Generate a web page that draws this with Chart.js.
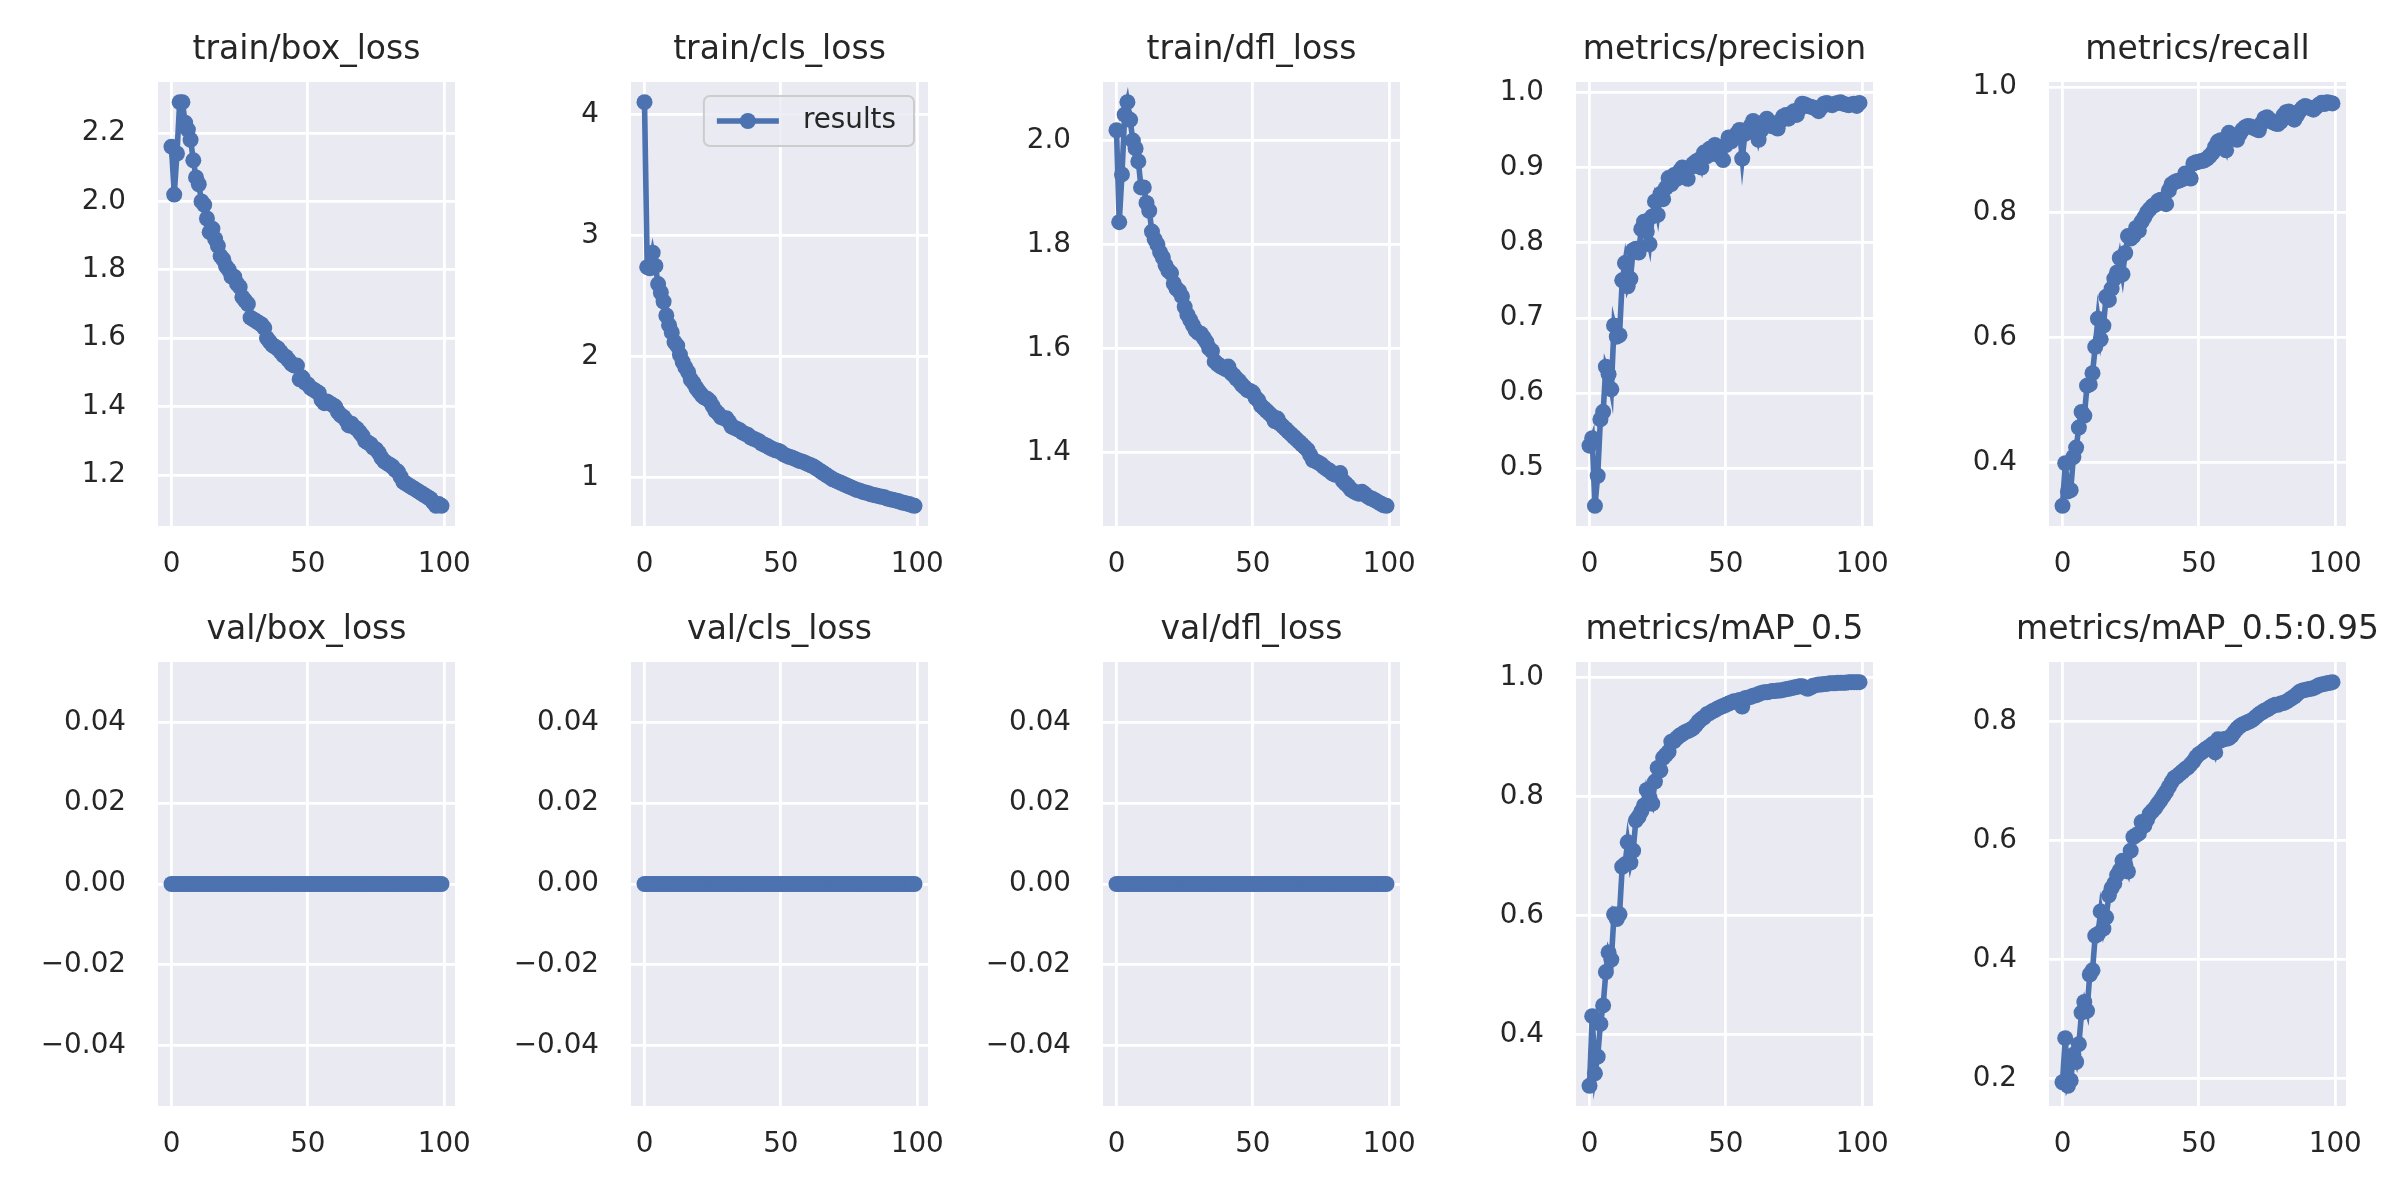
<!DOCTYPE html>
<html>
<head>
<meta charset="utf-8">
<script src="https://cdn.jsdelivr.net/npm/chart.js@4.4.1/dist/chart.umd.min.js"></script>
<style>
  html, body { margin: 0; padding: 0; background: #ffffff; }
  #figure { position: relative; width: 2400px; height: 1200px; overflow: hidden; background: #ffffff; }
  #figure canvas { position: absolute; }
</style>
</head>
<body>
<div id="figure"></div>
<script>
// epochs on the x axis
const epochs = [0,1,2,3,4,5,6,7,8,9,10,11,12,13,14,15,16,17,18,19,20,21,22,23,24,25,26,27,28,29,
  30,31,32,33,34,35,36,37,38,39,40,41,42,43,44,45,46,47,48,49,50,51,52,53,54,55,56,57,58,59,
  60,61,62,63,64,65,66,67,68,69,70,71,72,73,74,75,76,77,78,79,80,81,82,83,84,85,86,87,88,89,
  90,91,92,93,94,95,96,97,98,99];

const trainBoxLoss = [2.16,2.02,2.14,2.29,2.29,2.23,2.21,2.18,2.12,2.07,
  2.05,2.00,1.99,1.95,1.91,1.92,1.89,1.87,1.84,1.83,
  1.81,1.80,1.78,1.78,1.76,1.75,1.72,1.71,1.70,1.66,
  1.655,1.65,1.645,1.64,1.63,1.60,1.59,1.58,1.575,1.57,
  1.56,1.55,1.545,1.535,1.525,1.52,1.52,1.48,1.485,1.47,
  1.465,1.455,1.45,1.445,1.44,1.42,1.41,1.415,1.41,1.405,
  1.40,1.385,1.375,1.37,1.36,1.345,1.35,1.34,1.335,1.325,
  1.315,1.30,1.295,1.29,1.28,1.275,1.265,1.25,1.24,1.235,
  1.23,1.225,1.215,1.21,1.195,1.18,1.175,1.17,1.165,1.16,
  1.155,1.15,1.145,1.14,1.135,1.13,1.12,1.11,1.115,1.11];

const trainClsLoss = [4.105,2.74,2.73,2.86,2.75,2.60,2.53,2.455,2.34,2.26,
  2.20,2.12,2.09,2.015,1.955,1.91,1.87,1.81,1.78,1.74,
  1.71,1.68,1.66,1.65,1.63,1.59,1.55,1.53,1.50,1.49,
  1.49,1.46,1.42,1.41,1.40,1.39,1.37,1.36,1.35,1.33,
  1.32,1.31,1.30,1.28,1.27,1.26,1.245,1.235,1.225,1.22,
  1.21,1.19,1.18,1.17,1.165,1.155,1.145,1.135,1.13,1.12,
  1.11,1.10,1.09,1.075,1.06,1.045,1.03,1.015,1.00,0.985,
  0.975,0.965,0.955,0.945,0.935,0.925,0.915,0.905,0.895,0.89,
  0.88,0.875,0.87,0.86,0.855,0.85,0.845,0.84,0.835,0.825,
  0.82,0.815,0.81,0.805,0.795,0.79,0.785,0.78,0.77,0.765];

const trainDflLoss = [2.02,1.843,1.935,2.05,2.074,2.04,2.0,1.985,1.96,1.91,
  1.91,1.88,1.865,1.825,1.81,1.80,1.785,1.775,1.76,1.75,
  1.745,1.725,1.715,1.71,1.70,1.68,1.665,1.655,1.645,1.635,
  1.63,1.628,1.62,1.612,1.60,1.595,1.575,1.57,1.566,1.563,
  1.56,1.565,1.553,1.548,1.542,1.537,1.53,1.525,1.52,1.518,
  1.515,1.505,1.50,1.49,1.485,1.48,1.475,1.47,1.46,1.465,
  1.455,1.45,1.445,1.44,1.435,1.43,1.425,1.42,1.415,1.41,
  1.405,1.395,1.385,1.383,1.38,1.377,1.372,1.368,1.365,1.36,
  1.357,1.358,1.36,1.345,1.34,1.335,1.328,1.325,1.322,1.32,
  1.324,1.32,1.315,1.312,1.31,1.307,1.304,1.301,1.298,1.297];

const precision = [0.53,0.54,0.45,0.49,0.565,0.575,0.635,0.625,0.605,0.69,
  0.675,0.677,0.75,0.773,0.742,0.752,0.79,0.792,0.787,0.818,
  0.828,0.815,0.798,0.835,0.855,0.837,0.865,0.858,0.873,0.886,
  0.878,0.89,0.885,0.895,0.90,0.893,0.885,0.90,0.905,0.908,
  0.91,0.90,0.92,0.915,0.925,0.918,0.93,0.92,0.915,0.91,
  0.93,0.94,0.935,0.94,0.945,0.95,0.912,0.945,0.95,0.955,
  0.962,0.955,0.937,0.95,0.96,0.965,0.96,0.955,0.958,0.952,
  0.962,0.968,0.97,0.965,0.972,0.975,0.97,0.978,0.985,0.984,
  0.982,0.981,0.98,0.978,0.975,0.98,0.985,0.986,0.984,0.983,
  0.985,0.986,0.987,0.985,0.984,0.983,0.984,0.985,0.982,0.986];

const recall = [0.331,0.399,0.354,0.356,0.409,0.424,0.456,0.481,0.475,0.523,
  0.525,0.543,0.585,0.63,0.597,0.619,0.665,0.66,0.678,0.694,
  0.704,0.727,0.701,0.735,0.762,0.758,0.762,0.775,0.771,0.785,
  0.792,0.80,0.805,0.81,0.812,0.818,0.82,0.815,0.813,0.835,
  0.845,0.848,0.85,0.851,0.853,0.862,0.856,0.854,0.878,0.88,
  0.881,0.882,0.883,0.886,0.89,0.895,0.905,0.913,0.915,0.91,
  0.899,0.927,0.92,0.918,0.916,0.925,0.932,0.936,0.938,0.937,
  0.935,0.933,0.931,0.942,0.95,0.952,0.948,0.944,0.942,0.941,
  0.945,0.955,0.96,0.961,0.952,0.948,0.955,0.962,0.967,0.97,
  0.968,0.966,0.964,0.968,0.972,0.975,0.973,0.976,0.975,0.974];

const valBoxLoss = [0,0,0,0,0,0,0,0,0,0,0,0,0,0,0,0,0,0,0,0,0,0,0,0,0,0,0,0,0,0,0,0,0,0,0,0,0,0,0,0,0,0,0,0,0,0,0,0,0,0,
  0,0,0,0,0,0,0,0,0,0,0,0,0,0,0,0,0,0,0,0,0,0,0,0,0,0,0,0,0,0,0,0,0,0,0,0,0,0,0,0,0,0,0,0,0,0,0,0,0,0];
const valClsLoss = [0,0,0,0,0,0,0,0,0,0,0,0,0,0,0,0,0,0,0,0,0,0,0,0,0,0,0,0,0,0,0,0,0,0,0,0,0,0,0,0,0,0,0,0,0,0,0,0,0,0,
  0,0,0,0,0,0,0,0,0,0,0,0,0,0,0,0,0,0,0,0,0,0,0,0,0,0,0,0,0,0,0,0,0,0,0,0,0,0,0,0,0,0,0,0,0,0,0,0,0,0];
const valDflLoss = [0,0,0,0,0,0,0,0,0,0,0,0,0,0,0,0,0,0,0,0,0,0,0,0,0,0,0,0,0,0,0,0,0,0,0,0,0,0,0,0,0,0,0,0,0,0,0,0,0,0,
  0,0,0,0,0,0,0,0,0,0,0,0,0,0,0,0,0,0,0,0,0,0,0,0,0,0,0,0,0,0,0,0,0,0,0,0,0,0,0,0,0,0,0,0,0,0,0,0,0,0];

const mAP50 = [0.314,0.431,0.335,0.363,0.418,0.449,0.505,0.538,0.526,0.602,
  0.594,0.602,0.682,0.686,0.723,0.689,0.709,0.76,0.766,0.775,
  0.785,0.811,0.798,0.788,0.825,0.848,0.844,0.865,0.87,0.875,
  0.892,0.893,0.898,0.902,0.905,0.908,0.91,0.912,0.915,0.92,
  0.926,0.93,0.933,0.938,0.94,0.943,0.945,0.948,0.95,0.952,
  0.954,0.956,0.958,0.96,0.96,0.962,0.951,0.965,0.966,0.967,
  0.969,0.97,0.972,0.974,0.975,0.975,0.976,0.977,0.977,0.978,
  0.978,0.979,0.98,0.981,0.982,0.983,0.984,0.985,0.985,0.983,
  0.981,0.983,0.986,0.987,0.988,0.988,0.989,0.989,0.99,0.99,
  0.99,0.991,0.991,0.991,0.991,0.992,0.992,0.992,0.992,0.992];

const mAP5095 = [0.194,0.268,0.188,0.197,0.24,0.228,0.258,0.311,0.329,0.314,
  0.375,0.382,0.44,0.443,0.481,0.452,0.471,0.508,0.52,0.528,
  0.542,0.55,0.566,0.56,0.548,0.583,0.606,0.609,0.612,0.631,
  0.625,0.635,0.645,0.65,0.655,0.662,0.668,0.675,0.682,0.69,
  0.698,0.705,0.708,0.712,0.716,0.72,0.723,0.728,0.733,0.74,
  0.745,0.748,0.752,0.755,0.758,0.762,0.748,0.77,0.768,0.77,
  0.771,0.772,0.776,0.782,0.788,0.792,0.795,0.797,0.799,0.801,
  0.804,0.808,0.812,0.815,0.818,0.82,0.823,0.826,0.828,0.828,
  0.83,0.831,0.833,0.836,0.839,0.842,0.846,0.85,0.852,0.853,
  0.854,0.855,0.856,0.858,0.861,0.862,0.863,0.864,0.865,0.866];

// tick values and their labels
const xTicks = [0, 50, 100];
const xTickLabels = ['0', '50', '100'];
const boxTicks = [1.2, 1.4, 1.6, 1.8, 2.0, 2.2];
const boxTickLabels = ['1.2', '1.4', '1.6', '1.8', '2.0', '2.2'];
const clsTicks = [1, 2, 3, 4];
const clsTickLabels = ['1', '2', '3', '4'];
const dflTicks = [1.4, 1.6, 1.8, 2.0];
const dflTickLabels = ['1.4', '1.6', '1.8', '2.0'];
const precisionTicks = [0.5, 0.6, 0.7, 0.8, 0.9, 1.0];
const precisionTickLabels = ['0.5', '0.6', '0.7', '0.8', '0.9', '1.0'];
const recallTicks = [0.4, 0.6, 0.8, 1.0];
const recallTickLabels = ['0.4', '0.6', '0.8', '1.0'];
const valTicks = [-0.04, -0.02, 0, 0.02, 0.04];
const valTickLabels = ['\u22120.04', '\u22120.02', '0.00', '0.02', '0.04'];
const mAP50Ticks = [0.4, 0.6, 0.8, 1.0];
const mAP50TickLabels = ['0.4', '0.6', '0.8', '1.0'];
const mAP5095Ticks = [0.2, 0.4, 0.6, 0.8];
const mAP5095TickLabels = ['0.2', '0.4', '0.6', '0.8'];

const panels = [
  { title: 'train/box_loss', values: trainBoxLoss, ticks: boxTicks, labels: boxTickLabels },
  { title: 'train/cls_loss', values: trainClsLoss, ticks: clsTicks, labels: clsTickLabels, legend: true },
  { title: 'train/dfl_loss', values: trainDflLoss, ticks: dflTicks, labels: dflTickLabels },
  { title: 'metrics/precision', values: precision, ticks: precisionTicks, labels: precisionTickLabels },
  { title: 'metrics/recall', values: recall, ticks: recallTicks, labels: recallTickLabels },
  { title: 'val/box_loss', values: valBoxLoss, ticks: valTicks, labels: valTickLabels },
  { title: 'val/cls_loss', values: valClsLoss, ticks: valTicks, labels: valTickLabels },
  { title: 'val/dfl_loss', values: valDflLoss, ticks: valTicks, labels: valTickLabels },
  { title: 'metrics/mAP_0.5', values: mAP50, ticks: mAP50Ticks, labels: mAP50TickLabels },
  { title: 'metrics/mAP_0.5:0.95', values: mAP5095, ticks: mAP5095Ticks, labels: mAP5095TickLabels }
];

// layout (pixels); an empty right axis mirrors the left one so the title centres on the plot
const PLOT_LEFT = [158, 631, 1103, 1576, 2049];
const PLOT_TOP = [82, 662];
const PLOT_W = 297, PLOT_H = 444;
const Y_AXIS_W = 125, TITLE_H = 50, X_AXIS_H = 70;

const FONT = "'DejaVu Sans', sans-serif";
const TEXT = '#262626';
const BLUE = '#4c72b0';
const FACE = '#eaeaf2';
const TICK_SIZE = 27.8;

// matplotlib style autoscale: 5% margin, flat data expanded first
function limits(values) {
  let lo = Math.min(...values), hi = Math.max(...values);
  if (lo === hi) { lo -= 0.05; hi += 0.05; }
  const m = (hi - lo) * 0.05;
  return [lo - m, hi + m];
}

const facePlugin = {
  id: 'face',
  beforeDraw(chart) {
    const a = chart.chartArea;
    chart.ctx.save();
    chart.ctx.fillStyle = FACE;
    chart.ctx.fillRect(a.left, a.top, a.right - a.left, a.bottom - a.top);
    chart.ctx.restore();
  }
};

const legendPlugin = {
  id: 'insideLegend',
  afterDatasetsDraw(chart) {
    const ctx = chart.ctx, a = chart.chartArea;
    const label = chart.data.datasets[0].label;
    ctx.save();
    ctx.font = TICK_SIZE + 'px ' + FONT;
    const textW = ctx.measureText(label).width;
    const pad = 13, handle = 62, gap = 24;
    const w = pad + handle + gap + textW + pad + 5;
    const h = 50;
    const x = a.right - 14 - w, y = a.top + 14;
    const r = 6;
    ctx.beginPath();
    ctx.moveTo(x + r, y);
    ctx.arcTo(x + w, y, x + w, y + h, r);
    ctx.arcTo(x + w, y + h, x, y + h, r);
    ctx.arcTo(x, y + h, x, y, r);
    ctx.arcTo(x, y, x + w, y, r);
    ctx.closePath();
    ctx.fillStyle = 'rgba(234,234,242,0.8)';
    ctx.fill();
    ctx.strokeStyle = '#cccccc';
    ctx.lineWidth = 2;
    ctx.stroke();
    const cy = y + h / 2;
    ctx.strokeStyle = BLUE;
    ctx.lineWidth = 5.6;
    ctx.beginPath();
    ctx.moveTo(x + pad, cy);
    ctx.lineTo(x + pad + handle, cy);
    ctx.stroke();
    ctx.fillStyle = BLUE;
    ctx.beginPath();
    ctx.arc(x + pad + handle / 2, cy, 8, 0, Math.PI * 2);
    ctx.fill();
    ctx.fillStyle = TEXT;
    ctx.textBaseline = 'middle';
    ctx.textAlign = 'left';
    ctx.fillText(label, x + pad + handle + gap, cy);
    ctx.restore();
  }
};

const fig = document.getElementById('figure');
const [xLo, xHi] = limits(epochs);

panels.forEach((p, k) => {
  const row = Math.floor(k / 5), col = k % 5;
  const canvas = document.createElement('canvas');
  canvas.width = Y_AXIS_W + PLOT_W + Y_AXIS_W;
  canvas.height = TITLE_H + PLOT_H + X_AXIS_H;
  canvas.style.left = (PLOT_LEFT[col] - Y_AXIS_W) + 'px';
  canvas.style.top = (PLOT_TOP[row] - TITLE_H) + 'px';
  fig.appendChild(canvas);

  const [yLo, yHi] = limits(p.values);
  const grid = { color: '#ffffff', lineWidth: 2.8, drawTicks: false };
  const tickFont = { family: FONT, size: TICK_SIZE };

  new Chart(canvas, {
    type: 'line',
    data: {
      datasets: [{
        label: 'results',
        data: epochs.map((e, i) => ({ x: e, y: p.values[i] })),
        borderColor: BLUE,
        backgroundColor: BLUE,
        borderWidth: 5.6,
        pointRadius: 8,
        pointBorderWidth: 0,
        pointBackgroundColor: BLUE,
        tension: 0
      }]
    },
    options: {
      responsive: false,
      animation: false,
      events: [],
      layout: { padding: 0 },
      scales: {
        x: {
          type: 'linear', min: xLo, max: xHi, bounds: 'data',
          afterBuildTicks: s => { s.ticks = xTicks.map(v => ({ value: v })); },
          afterFit: s => { s.height = X_AXIS_H; },
          grid: grid,
          border: { display: false },
          ticks: { autoSkip: false, maxRotation: 0, padding: 22, color: TEXT, font: tickFont,
                   callback: (v, i) => xTickLabels[i] }
        },
        y: {
          type: 'linear', position: 'left', min: yLo, max: yHi, bounds: 'data',
          afterBuildTicks: s => { s.ticks = p.ticks.map(v => ({ value: v })); },
          afterFit: s => { s.width = Y_AXIS_W; },
          grid: grid,
          border: { display: false },
          ticks: { autoSkip: false, padding: 32, color: TEXT, font: tickFont,
                   callback: (v, i) => p.labels[i] }
        },
        yMirror: {
          type: 'linear', position: 'right', min: yLo, max: yHi,
          afterFit: s => { s.width = Y_AXIS_W; },
          grid: { display: false },
          border: { display: false },
          ticks: { display: false }
        }
      },
      plugins: {
        legend: { display: false },
        tooltip: { enabled: false },
        title: {
          display: true, text: p.title, color: TEXT,
          font: { family: FONT, size: 33, weight: 'normal', lineHeight: '36px' },
          padding: { top: 0, bottom: 14 }
        }
      }
    },
    plugins: p.legend ? [facePlugin, legendPlugin] : [facePlugin]
  });
});
</script>
</body>
</html>
